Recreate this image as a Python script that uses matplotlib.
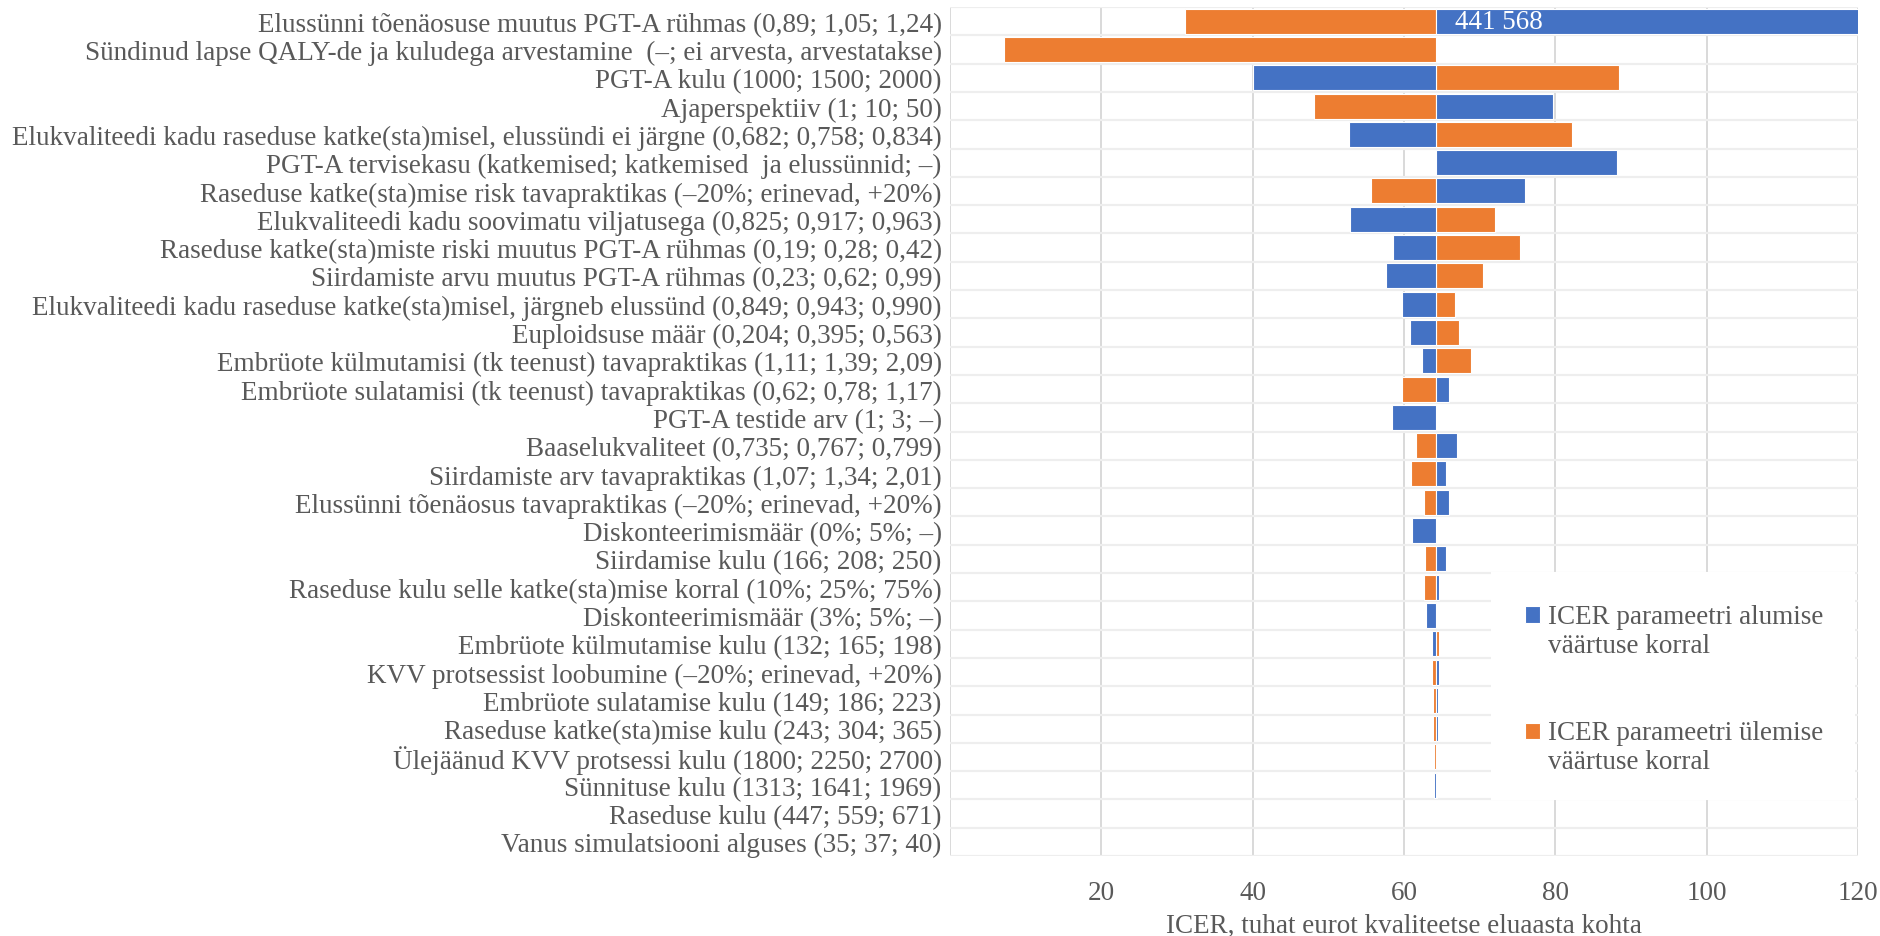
import matplotlib.pyplot as plt
import matplotlib.patches as mpatches
from matplotlib.container import BarContainer
from matplotlib.legend_handler import HandlerPatch, update_from_first_child
import numpy as np

# ICER (thousand EUR per QALY) at the lower / upper value of each parameter
labels = [
    "Elussünni tõenäosuse muutus PGT-A rühmas (0,89; 1,05; 1,24)",
    "Sündinud lapse QALY-de ja kuludega arvestamine  (–; ei arvesta, arvestatakse)",
    "PGT-A kulu (1000; 1500; 2000)",
    "Ajaperspektiiv (1; 10; 50)",
    "Elukvaliteedi kadu raseduse katke(sta)misel, elussündi ei järgne (0,682; 0,758; 0,834)",
    "PGT-A tervisekasu (katkemised; katkemised  ja elussünnid; –)",
    "Raseduse katke(sta)mise risk tavapraktikas (–20%; erinevad, +20%)",
    "Elukvaliteedi kadu soovimatu viljatusega (0,825; 0,917; 0,963)",
    "Raseduse katke(sta)miste riski muutus PGT-A rühmas (0,19; 0,28; 0,42)",
    "Siirdamiste arvu muutus PGT-A rühmas (0,23; 0,62; 0,99)",
    "Elukvaliteedi kadu raseduse katke(sta)misel, järgneb elussünd (0,849; 0,943; 0,990)",
    "Euploidsuse määr (0,204; 0,395; 0,563)",
    "Embrüote külmutamisi (tk teenust) tavapraktikas (1,11; 1,39; 2,09)",
    "Embrüote sulatamisi (tk teenust) tavapraktikas (0,62; 0,78; 1,17)",
    "PGT-A testide arv (1; 3; –)",
    "Baaselukvaliteet (0,735; 0,767; 0,799)",
    "Siirdamiste arv tavapraktikas (1,07; 1,34; 2,01)",
    "Elussünni tõenäosus tavapraktikas (–20%; erinevad, +20%)",
    "Diskonteerimismäär (0%; 5%; –)",
    "Siirdamise kulu (166; 208; 250)",
    "Raseduse kulu selle katke(sta)mise korral (10%; 25%; 75%)",
    "Diskonteerimismäär (3%; 5%; –)",
    "Embrüote külmutamise kulu (132; 165; 198)",
    "KVV protsessist loobumine (–20%; erinevad, +20%)",
    "Embrüote sulatamise kulu (149; 186; 223)",
    "Raseduse katke(sta)mise kulu (243; 304; 365)",
    "Ülejäänud KVV protsessi kulu (1800; 2250; 2700)",
    "Sünnituse kulu (1313; 1641; 1969)",
    "Raseduse kulu (447; 559; 671)",
    "Vanus simulatsiooni alguses (35; 37; 40)",
]

base_icer = 64.2

icer_low = [441.568, np.nan, 40.0, 79.7, 52.7, 88.1, 76.0, 52.9, 58.6, 57.6,
            59.8, 60.8, 62.4, 66.0, 58.4, 67.0, 65.5, 66.0, 61.1, 65.5,
            64.6, 62.9, 63.7, 64.6, 64.5, 64.5, 64.4, 64.0, np.nan, np.nan]
icer_high = [31.0, 7.2, 88.4, 48.1, 82.2, np.nan, 55.6, 72.0, 75.3, 70.4,
             66.7, 67.3, 68.8, 59.8, np.nan, 61.6, 60.9, 62.7, np.nan, 62.8,
             62.6, np.nan, 64.6, 63.7, 63.8, 63.8, 63.9, 64.4, np.nan, np.nan]

BLUE = "#4472C4"
ORANGE = "#ED7D31"
TXT = "#595959"
FS = 19.5

plt.rcParams["font.family"] = ["Liberation Serif", "DejaVu Serif"]

W, H = 1881, 937
fig = plt.figure(figsize=(W / 100, H / 100), dpi=100)
ax = fig.add_axes([950 / W, 1 - 857 / H, (1858 - 950) / W, (857 - 8) / H])

y = np.arange(len(labels))
low = np.array(icer_low)
high = np.array(icer_high)

ax.barh(y, high - base_icer, left=base_icer, height=0.88, color=ORANGE,
        edgecolor="white", linewidth=0.8, zorder=2,
        label="ICER parameetri ülemise\nväärtuse korral")
ax.barh(y, low - base_icer, left=base_icer, height=0.88, color=BLUE,
        edgecolor="white", linewidth=0.8, zorder=2,
        label="ICER parameetri alumise\nväärtuse korral")

# value label for the clipped bar
ax.annotate(f"{icer_low[0] * 1000:,.0f}".replace(",", " "),
            xy=(base_icer, 0), xytext=(14, 0), textcoords="offset points",
            ha="left", va="center", color="white", fontsize=FS, zorder=3)

xticks = np.arange(0, 121, 20)
ax.set_xlim(0, 120)
ax.set_ylim(len(labels) - 0.5, -0.5)
ax.set_xticks(xticks)
ax.set_xticklabels(["" if t == 0 else str(t) for t in xticks])
ax.set_yticks(y)
ax.set_yticklabels(labels)
ax.set_yticks(np.arange(-0.5, len(labels), 1), minor=True)
ax.tick_params(axis="both", which="both", length=0, labelsize=FS, labelcolor=TXT)
ax.tick_params(axis="x", pad=17)
ax.tick_params(axis="y", pad=6)
ax.grid(axis="x", which="major", color="#D9D9D9", linewidth=1.4)
ax.grid(axis="y", which="minor", color="#EEEEEE", linewidth=1.6)
ax.set_axisbelow(True)
for s in ax.spines.values():
    s.set_visible(False)

ax.set_xlabel("ICER, tuhat eurot kvaliteetse eluaasta kohta", fontsize=FS,
              color=TXT, labelpad=6)

# white area behind the legend
ax.add_patch(mpatches.Rectangle((1491 / W, 1 - 801 / H), (1855 - 1491) / W,
                                (801 - 573.4) / H, transform=fig.transFigure,
                                facecolor="white", edgecolor="none", zorder=1))


def top_square(legend, orig_handle, xdescent, ydescent, width, height, fontsize):
    # keep the square level with the first line of a two-line label
    return mpatches.Rectangle((-xdescent, -ydescent + 0.6 * fontsize), width, height)


handles, lbls = ax.get_legend_handles_labels()
leg = ax.legend(handles[::-1], lbls[::-1], loc="upper left",
                bbox_to_anchor=(1525 / W, 1 - 605 / H),
                bbox_transform=fig.transFigure, frameon=False, fontsize=FS,
                handlelength=0.55, handleheight=0.55, handletextpad=0.3,
                labelspacing=2.3, borderpad=0, borderaxespad=0,
                handler_map={BarContainer: HandlerPatch(
                    patch_func=top_square, update_func=update_from_first_child)})
for t in leg.get_texts():
    t.set_color(TXT)

fig.savefig("out.png", dpi=100)
